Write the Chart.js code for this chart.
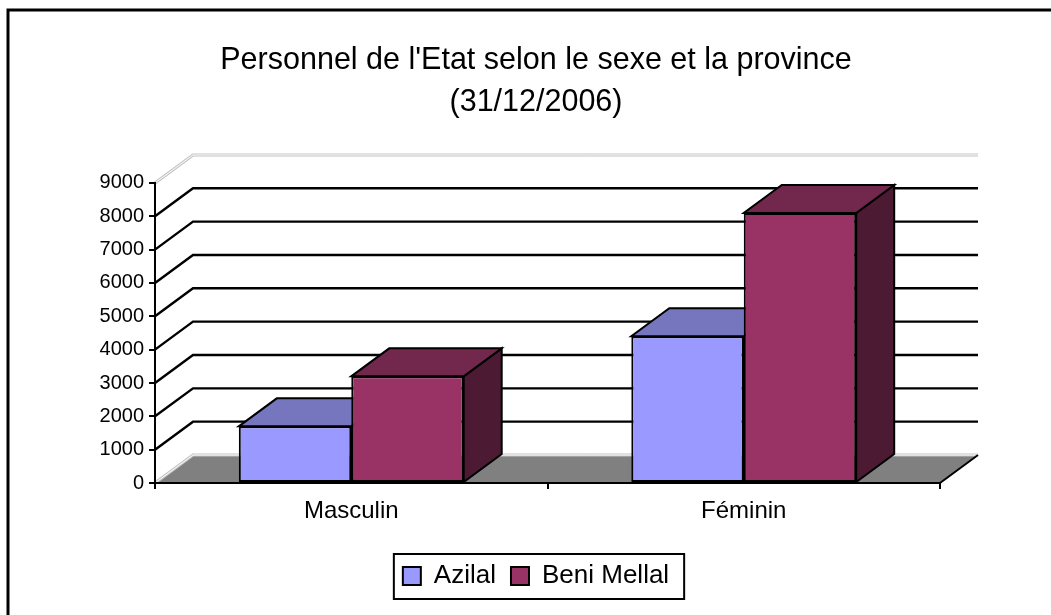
<!DOCTYPE html>
<html>
<head>
<meta charset="UTF-8">
<script src="https://cdn.jsdelivr.net/npm/chart.js@4.4.1/dist/chart.umd.min.js"></script>
<style>
  body { margin: 0; background: #fff; }
  canvas { display: block; }
</style>
</head>
<body>
<canvas id="myChart" width="1051" height="615"></canvas>
<script>
// data
var categories = ["Masculin", "Féminin"];
var azilal = [1700, 4400];
var beniMellal = [3200, 8100];
var yMin = 0, yMax = 9000, yStep = 1000;

// 3D look
var depthX = 38, depthY = 28;
var fontFamily = "'Liberation Sans', Arial, sans-serif";

function face(ctx, pts, fill) {
  ctx.beginPath();
  ctx.moveTo(pts[0][0], pts[0][1]);
  for (var i = 1; i < pts.length; i++) ctx.lineTo(pts[i][0], pts[i][1]);
  ctx.closePath();
  if (fill) { ctx.fillStyle = fill; ctx.fill(); }
  ctx.stroke();
}

function lightEdge(ctx, pts) {
  ctx.beginPath();
  ctx.moveTo(pts[0][0], pts[0][1]);
  for (var i = 1; i < pts.length; i++) ctx.lineTo(pts[i][0], pts[i][1]);
  ctx.strokeStyle = '#c4c4c4'; ctx.lineWidth = 3; ctx.stroke();
  ctx.strokeStyle = '#ffffff'; ctx.lineWidth = 1; ctx.stroke();
}

var depthPlugin = {
  id: 'depth3d',
  beforeDraw: function(chart) {
    var ctx = chart.ctx;
    ctx.save();
    ctx.fillStyle = '#fff';
    ctx.fillRect(0, 0, chart.width, chart.height);
    ctx.restore();
  },
  beforeDatasetsDraw: function(chart) {
    var ctx = chart.ctx, a = chart.chartArea, ys = chart.scales.y;
    var base = ys.getPixelForValue(yMin);
    var top = ys.getPixelForValue(yMax);
    ctx.save();
    ctx.lineJoin = 'miter';

    // floor
    ctx.beginPath();
    ctx.moveTo(a.left, base);
    ctx.lineTo(a.right, base);
    ctx.lineTo(a.right + depthX, base - depthY);
    ctx.lineTo(a.left + depthX, base - depthY);
    ctx.closePath();
    ctx.fillStyle = '#808080';
    ctx.fill();
    lightEdge(ctx, [[a.left, base], [a.left + depthX, base - depthY], [a.right + depthX, base - depthY]]);
    lightEdge(ctx, [[a.left, top], [a.left + depthX, top - depthY], [a.right + depthX, top - depthY]]);

    ctx.strokeStyle = '#000';
    ctx.lineWidth = 2;
    ctx.beginPath();
    ctx.moveTo(a.right, base);
    ctx.lineTo(a.right + depthX, base - depthY);
    ctx.stroke();

    // gridlines on the side and back walls
    ctx.lineWidth = 2.4;
    ctx.beginPath();
    ys.ticks.forEach(function(t) {
      if (t.value <= yMin || t.value >= yMax) return;
      var y = ys.getPixelForValue(t.value);
      ctx.moveTo(a.left, y);
      ctx.lineTo(a.left + depthX, y - depthY);
      ctx.lineTo(a.right + depthX, y - depthY);
    });
    ctx.stroke();

    // bar tops and sides
    chart.data.datasets.forEach(function(ds, i) {
      var meta = chart.getDatasetMeta(i);
      meta.data.forEach(function(bar) {
        var x0 = bar.x - bar.width / 2, x1 = bar.x + bar.width / 2;
        var yt = bar.y, yb = bar.base;
        ctx.strokeStyle = '#000';
        ctx.lineWidth = 2;
        face(ctx, [[x1, yt], [x1, yb], [x1 + depthX, yb - depthY], [x1 + depthX, yt - depthY]], ds.sideColor);
        face(ctx, [[x0, yt], [x1, yt], [x1 + depthX, yt - depthY], [x0 + depthX, yt - depthY]], ds.topColor);
      });
    });
    ctx.restore();
  },
  afterDraw: function(chart) {
    var ctx = chart.ctx;
    ctx.save();
    ctx.strokeStyle = '#000';
    // legend frame
    var boxes = chart.legend.legendHitBoxes;
    if (boxes && boxes.length) {
      var first = boxes[0], last = boxes[boxes.length - 1];
      var cy = first.top + first.height / 2;
      ctx.lineWidth = 2;
      ctx.strokeRect(first.left - 9, cy - 22, last.left + last.width - first.left + 24, 45);
    }
    // outer frame
    ctx.lineWidth = 3;
    ctx.strokeRect(8, 10, chart.width + 20, chart.height + 20);
    ctx.restore();
  }
};

var ctx = document.getElementById('myChart').getContext('2d');
var chart = new Chart(ctx, {
  type: 'bar',
  data: {
    labels: categories,
    datasets: [{
      label: "Azilal",
      data: azilal,
      backgroundColor: '#9999FF',
      topColor: '#7676BE',
      sideColor: '#5B5B99',
      borderColor: '#000',
      borderWidth: 2,
      borderSkipped: false,
      categoryPercentage: 0.573,
      barPercentage: 1
    }, {
      label: "Beni Mellal",
      data: beniMellal,
      backgroundColor: '#993366',
      topColor: '#72274C',
      sideColor: '#4D1A33',
      borderColor: '#000',
      borderWidth: 2,
      borderSkipped: false,
      categoryPercentage: 0.573,
      barPercentage: 1
    }]
  },
  options: {
    responsive: false,
    animation: false,
    layout: { padding: { left: 62, right: 41, top: 0, bottom: 16 } },
    plugins: {
      title: {
        display: true,
        text: ["Personnel de l'Etat selon le sexe et la province", "(31/12/2006)"],
        color: '#000',
        font: { family: fontFamily, size: 30.5, weight: 'normal', lineHeight: 1.37 },
        padding: { top: 40, bottom: 59.4 }
      },
      legend: {
        position: 'bottom',
        labels: {
          color: '#000',
          font: { family: fontFamily, size: 26 },
          boxWidth: 18,
          boxHeight: 18,
          padding: 15
        }
      },
      tooltip: { enabled: false }
    },
    scales: {
      x: {
        grid: { display: true, drawOnChartArea: false, offset: true, tickLength: 6, color: '#000', lineWidth: 2 },
        border: { display: true, color: '#000', width: 2, z: 1 },
        ticks: { color: '#000', font: { family: fontFamily, size: 24 }, padding: 8 },
        afterFit: function(s) { s.height = 65; }
      },
      y: {
        min: yMin,
        max: yMax,
        ticks: {
          stepSize: yStep, color: '#000', font: { family: fontFamily, size: 20 }, padding: 5,
          callback: function(v) { return String(v); }
        },
        grid: { display: true, drawOnChartArea: false, tickLength: 6, color: '#000', lineWidth: 2 },
        border: { display: true, color: '#000', width: 2, z: 1 },
        afterFit: function(s) { s.width = 93; }
      },
      // empty right-hand strip so the title and legend stay centred like the original
      spacer: {
        type: 'linear',
        position: 'right',
        grid: { display: false },
        border: { display: false },
        ticks: { display: false },
        afterFit: function(s) { s.width = 70; }
      }
    }
  },
  plugins: [depthPlugin]
});
</script>
</body>
</html>
